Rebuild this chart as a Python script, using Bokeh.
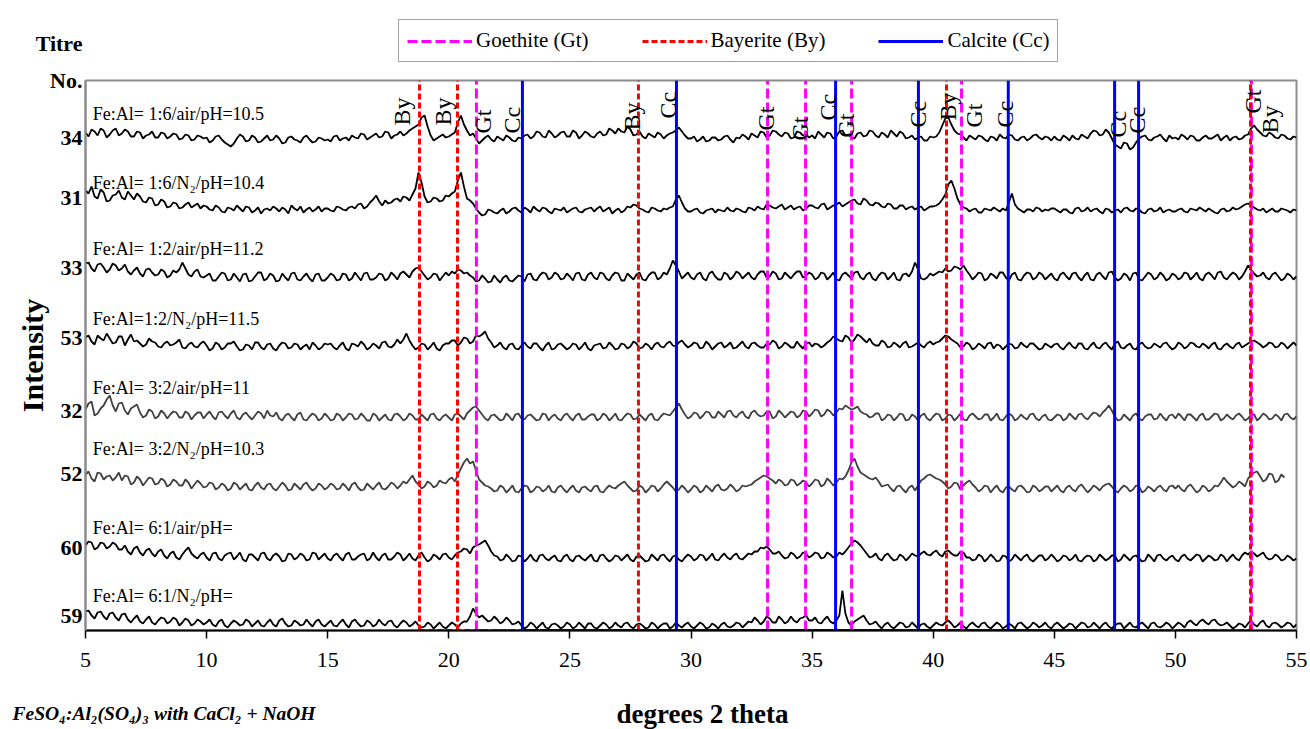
import numpy as np
from bokeh.plotting import figure
from bokeh.layouts import column
from bokeh.models import Range1d, FixedTicker, Legend, LegendItem, Label
from bokeh.core.properties import value
from bokeh.embed import file_html
from bokeh.resources import INLINE

FONT = "Liberation Serif"

# ---------------- data ----------------
two_theta_start = 5.0
two_theta_step = 0.25   # step of the main samples; *_mid are the samples in between

titre = ["34", "31", "33", "53", "32", "52", "60", "59"]
sample_names = [
    "Fe:Al= 1:6/air/pH=10.5",
    "Fe:Al= 1:6/N\u2082/pH=10.4",
    "Fe:Al= 1:2/air/pH=11.2",
    "Fe:Al=1:2/N\u2082/pH=11.5",
    "Fe:Al= 3:2/air/pH=11",
    "Fe:Al= 3:2/N\u2082/pH=10.3",
    "Fe:Al= 6:1/air/pH=",
    "Fe:Al= 6:1/N\u2082/pH=",
]
offsets = [490, 420, 353, 283, 213, 142, 73, 5]
titre_tick_y = [493, 433, 363, 293, 220, 157, 83, 15]
name_y = [517, 448, 382, 312, 243, 182, 103, 35]
trace_colors = ["black", "black", "black", "black", "#404040", "#404040", "black", "black"]

t34 = [8, 11, 5, 10, 6, 12, 7, 9, 4, 8, 5, 9, 3, 7, 4, 6, 2, 5, 1, 4,
       3, 0, 5, -2, -6, 2, 4, 0, 3, -1, 5, 1, 2, -2, 4, 0, 3, 1, -1, 2,
       1, 4, 0, 3, 5, 2, 6, 3, 7, 4, 8, 5, 9, 7, 12, 16, 25, 5, 2, 6,
       4, 8, 25, 10, 7, -3, 3, 1, 4, 0, 3, -1, 2, 6, 4, 8, 3, 7, 5, 9,
       4, 8, 5, 7, 3, 9, 6, 10, 12, 8, 11, 6, 4, 7, 3, 6, 5, 8, 13, 5,
       2, -1, 4, 0, 3, 1, 5, -2, 2, 4, 7, 3, 8, 5, 9, 4, 7, 3, 8, 6,
       5, 9, 3, 7, 4, 10, 6, 2, 8, 5, 9, 3, 6, 10, 4, 7, 3, 1, 4, 0,
       3, 8, 22, 16, 7, 3, 5, 1, 4, -1, 3, 6, 2, 5, 0, 4, 2, 6, 1, 3,
       4, 0, 3, 5, 1, 4, 7, 9, 6, 8, -4, -8, -3, -7, 2, 5, 0, 4, 2, 5,
       3, 6, 1, 4, 0, 5, 2, 6, 3, 0, 4, 2, 6, 15, 8, 4, 6, 2, 5, 1,
       3]
t34_mid = [4, 9, 12, 3, 10, 5, 11, 4, 9, 2, 6, 3, 8, 2, 7, 1, 6, 0, 5, 2,
           -2, 4, 1, -4, -3, 6, -1, 5, -2, 2, 0, 5, -3, 3, 1, -2, 5, -2, 3, 0,
           -1, 5, 2, 0, 3, 7, 1, 5, 3, 9, 2, 6, 5, 10, 14, 23, 14, 0, 4, 3,
           6, 18, 16, 5, 2, 0, 5, -1, 2, 5, 0, 3, 5, 2, 9, 4, 10, 3, 8, 4,
           10, 2, 9, 4, 7, 5, 12, 7, 9, 14, 5, 9, 2, 5, 8, 2, 7, 10, 9, 2,
           4, 1, -1, 3, 0, 4, 1, 3, 6, 1, 5, 9, 3, 10, 6, 8, 2, 9, 5, 3,
           2, 6, 8, 2, 9, 5, 3, 7, 4, 10, 5, 8, 3, 7, 9, 2, 5, 3, 0, 4,
           4, 15, 23, 10, 6, 0, 3, 5, 1, 4, 0, 3, 6, 1, 3, 0, 5, 3, 4, 0,
           1, 5, 0, 2, 6, 2, 10, 5, 11, 2, -6, -2, -9, -2, 4, 1, 3, 6, -1, 2,
           1, 4, 5, 0, 3, 2, 4, 0, 5, 3, 1, 5, 12, 11, 5, 8, 3, 6, 2, 4]

t31 = [20, 24, 12, 18, 10, 16, 13, 19, 11, 14, 8, 12, 6, 9, 4, 7, 3, 8, 5, 2,
       4, 0, 3, -2, 2, 5, -1, 3, 0, -3, 2, 4, -1, 1, 5, 0, -2, 3, 1, -1,
       2, -1, 3, 0, 4, 6, 2, 8, 15, 5, 7, 11, 9, 13, 16, 38, 14, 9, 12, 10,
       14, 19, 38, 12, 7, -2, -4, 0, -3, 2, -1, 3, -2, 1, 4, -1, 2, -3, 1, 3,
       0, 3, -2, 2, -1, 4, 1, -3, 2, 0, 3, 5, 1, -2, 2, -1, 1, 4, 15, 2,
       -1, 2, -3, 1, -2, 0, 3, -1, 1, -2, 2, 4, 1, 5, 2, 6, 3, 1, 4, 2,
       5, 2, 7, 3, 6, 4, 8, 11, 6, 10, 5, 7, 3, 6, 2, 5, 3, 1, 4, 2,
       4, 7, 16, 30, 12, 3, -1, 2, -2, 1, 3, -1, 0, 17, 2, -2, 1, 3, -1, 0,
       2, -2, 1, -3, 3, 0, -1, 2, -3, 1, 0, -2, 3, -1, 1, -3, 2, 0, -2, 1,
       -1, 2, -2, 1, 3, -1, 0, -3, 2, 0, 1, 4, 7, 3, 0, -2, 2, -1, 1, -2,
       0]
t31_mid = [17, 14, 21, 9, 15, 20, 11, 15, 17, 9, 13, 5, 11, 3, 8, 2, 6, 3, 7, 5,
           1, 5, -1, 3, 0, 2, 4, -2, 3, 1, 0, 2, 3, -3, 2, 4, 1, -1, 4, 2,
           0, 4, 1, 3, 2, 7, 4, 11, 9, 10, 8, 12, 14, 10, 22, 28, 8, 13, 9, 15,
           17, 30, 24, 10, 2, -5, 1, -2, 0, -3, 2, 0, 3, -2, 1, 3, -1, 2, 0, -2,
           2, -1, 1, 3, 2, -1, 3, 0, -2, 4, 6, 2, -1, 3, 0, 2, 3, 11, 8, -1,
           1, -2, 0, 2, 1, -1, 0, 2, -1, 3, 0, 2, 6, 3, 4, 1, 5, 3, 0, 5,
           3, 6, 1, 5, 8, 6, 10, 7, 12, 6, 8, 4, 7, 2, 5, 1, 4, 3, 0, 4,
           5, 11, 26, 22, 6, 2, 1, -2, 2, 0, 1, 2, 8, 6, 0, 1, -1, 2, 1, 2,
           0, 1, -2, 2, -1, 3, 1, -1, 2, -2, 1, 2, 0, 2, -2, 1, -1, 3, 0, -1,
           1, -1, 2, 0, 1, 2, -2, 1, -1, 3, 2, 6, 5, 1, 2, 0, -1, 2, 0, 1]

t33 = [14, 9, 13, 10, 8, 12, 9, 6, 7, 4, 8, 5, 3, 6, 2, 5, 15, 3, 6, 1,
       2, -3, 1, 4, -2, 0, 3, -4, 1, 5, -1, 2, -3, 0, 4, -2, 1, -1, 3, -3,
       0, 2, -2, 3, -1, 1, 4, -2, 0, 3, -1, 2, 4, 3, 6, 10, 2, 0, 3, 1,
       2, 4, 7, 5, 0, -3, -1, -4, -2, 0, -3, -1, 1, 3, -2, 2, 4, 0, 3, -1,
       1, 4, -2, 3, 0, 5, -1, 2, 4, -3, 1, 3, -2, 2, 5, 0, 3, 17, 6, 2,
       0, 3, -1, 4, 1, -2, 3, 1, 4, 2, 0, 3, 6, 1, 4, -1, 2, 3, 6, 2,
       3, 0, 4, 1, -2, 3, 2, 5, 0, 3, -1, 2, 4, 1, -2, 3, 1, 15, -1, 0,
       2, 6, 9, 7, 10, 12, 3, 1, 4, -1, 2, 5, 0, 3, -2, 2, 4, 0, 3, 1,
       -1, 3, 1, 4, 0, 2, -2, 3, 1, 5, 0, -1, 2, 4, -2, 1, 3, 0, 2, -1,
       2, 0, 4, 1, -1, 3, 2, 5, 0, 2, 3, 1, 12, 4, 2, 0, 3, 1, -1, 2,
       1]
t33_mid = [15, 6, 14, 5, 14, 7, 13, 3, 10, 1, 9, 2, 8, 0, 7, 8, 9, 1, 8, 0,
           4, -3, 5, -3, 4, -4, 4, -3, 5, -3, 4, -4, 4, -3, 5, -3, 4, -4, 4, -3,
           4, -3, 4, -3, 5, -3, 5, -2, 4, -3, 5, -2, 6, 0, 9, 6, -2, 4, -3, 5,
           6, 8, 4, 2, -4, 2, -5, 2, -5, 2, -4, 2, -4, 4, -3, 5, -2, 5, -2, 4,
           -3, 5, -3, 5, -2, 4, -3, 5, -3, 4, -2, 5, -3, 5, -2, 5, 9, 12, -1, 5,
           -2, 5, -3, 6, -2, 5, -2, 6, -1, 5, -2, 6, 0, 6, -2, 5, -1, 6, 0, 5,
           -2, 5, -2, 5, -3, 5, -1, 6, -2, 5, -3, 5, -2, 5, -3, 4, 6, 8, -2, 4,
           4, 5, 6, 11, 8, 7, -2, 5, -3, 4, -1, 5, -3, 5, -3, 5, -2, 5, -2, 4,
           -3, 5, -2, 5, -3, 5, -3, 5, -2, 6, -3, 4, -3, 5, -3, 5, -2, 5, -3, 4,
           -2, 5, -2, 5, -3, 5, -2, 6, -2, 5, -2, 6, 8, 1, 5, -2, 5, -3, 4, -2]

t53 = [10, 6, 12, 7, 9, 5, 11, 8, 6, 4, 3, 6, 1, 4, 2, 5, 0, 3, 1, 4,
       2, -1, 3, 0, 4, 1, -2, 2, 5, 0, 3, -1, 2, 4, 0, 3, 1, -2, 2, 0,
       3, 0, 2, -1, 4, 1, 3, 0, 2, 5, 1, 3, 4, 14, 2, 0, 3, 1, -1, 2,
       4, 7, 5, 9, 6, 11, 16, 5, 2, 0, 3, -1, 2, 1, 4, 0, 2, -2, 3, 1,
       0, 3, 1, -1, 2, 4, 0, 2, -1, 3, 1, 4, 0, 2, 3, 1, 4, 2, 5, 3,
       2, 4, 0, 3, 1, 5, 2, -1, 3, 1, 4, 2, 0, 3, 5, 1, 3, 0, 2, 4,
       1, 3, 2, 7, 9, 6, 10, 8, 11, 5, 4, 2, 5, 1, 3, 4, 0, 3, 2, 4,
       3, 6, 12, 8, 4, 1, 3, 0, 2, 4, -1, 2, 1, 3, 0, 2, 4, 1, -1, 2,
       3, 0, 2, 1, 4, -1, 2, 0, 3, 1, 4, 0, 2, -1, 3, 1, 0, 2, 4, 1,
       0, 3, 1, 4, 0, 2, 3, -1, 2, 1, 3, 0, 4, 7, 3, 2, 4, 1, 3, 2,
       2]
t53_mid = [12, 3, 9, 14, 4, 11, 2, 13, 7, 1, 9, 5, 0, 6, 3, 8, -1, 5, 0, 6,
           -3, 5, -2, 4, 6, -3, 3, -2, 5, -2, 4, -3, 5, -1, 4, -2, 3, 5, -2, 4,
           4, -2, 5, -3, 3, 6, -2, 4, -1, 6, 0, 8, 8, 7, -2, 4, -2, 5, -3, 4,
           7, 2, 10, 4, 12, 13, 9, 0, 5, -2, 4, -2, 5, -1, 4, -3, 5, -1, 4, -2,
           4, -2, 5, -3, 3, -1, 5, -2, 4, -1, 6, -1, 4, -2, 5, 0, 6, 1, 7, 0,
           5, -1, 6, -2, 4, 0, 5, 0, 6, -1, 5, 0, 4, 7, -1, 5, 0, 6, -1, 5,
           4, 0, 5, 11, 7, 12, 5, 13, 8, 9, 2, 7, 0, 5, 0, 6, 1, 5, 0, 6,
           5, 9, 11, 6, 0, 5, -2, 4, -1, 5, 3, -2, 4, -1, 5, 0, 4, -2, 4, 0,
           4, -2, 5, -1, 4, -2, 5, -1, 5, -2, 6, -1, 4, -2, 5, -1, 4, 0, 5, -2,
           5, -1, 5, 1, 4, -1, 5, -2, 4, -1, 5, 2, 6, 5, 0, 5, 0, 5, -1, 5]

t32 = [8, 16, 4, 12, 22, 6, 15, 3, 11, 5, 2, 6, 1, 4, 3, 5, 0, 4, 2, 5,
       3, 1, 5, 2, 4, 0, 3, 1, 2, 4, 7, 1, -1, 2, 0, 3, -2, 1, 2, -1,
       1, -2, 2, 0, 3, -1, 1, -3, 2, 0, -2, 3, 1, -1, 2, -2, 0, 3, -1, 1,
       0, 3, 1, 4, 10, 7, -1, 2, 0, -2, 1, 3, -1, 2, 0, -2, 3, 1, -1, 2,
       0, 2, -2, 1, 3, -1, 2, 0, -2, 1, 3, -1, 0, 2, -2, 1, 3, 6, 14, 3,
       1, 4, 2, 5, 0, 3, 6, 2, 4, 1, 5, 3, 2, 6, 1, 4, 3, 5, 2, 6,
       4, 7, 3, 6, 5, 8, 10, 9, 6, 3, 1, 4, -1, 2, 0, 3, -2, 1, 2, -1,
       1, 3, -1, 2, 0, -2, 2, 1, -1, 3, 0, -2, 1, 2, -1, 0, 3, -1, 1, -2,
       0, 2, -1, 1, 3, 0, 2, 4, 5, 12, 1, -2, 0, 2, -1, 1, 3, -1, 0, 2,
       -1, 1, 3, 0, 2, -2, 1, 3, -1, 0, 2, 1, -1, 3, 0, 2, -1, 1, 3, 0,
       1]
t32_mid = [14, 2, 9, 18, 12, 14, 7, 9, 13, 0, 8, -1, 7, -1, 6, 0, 6, -2, 5, -1,
           6, -2, 6, -1, 7, -2, 5, -2, 6, -1, 2, 5, -3, 4, -3, 5, -3, 4, -3, 4,
           -3, 4, -3, 4, -2, 4, -3, 4, -3, 3, -3, 4, -3, 4, -2, 3, -3, 4, -3, 3,
           -3, 4, -2, 7, 11, 3, -3, 3, -3, 4, -3, 4, -2, 3, -3, 4, -3, 3, -3, 4,
           -3, 4, -2, 3, -3, 4, -3, 4, -3, 4, -2, 3, -3, 4, -3, 4, 2, 10, 8, -1,
           5, -1, 6, 0, 6, 0, 7, 0, 6, -1, 7, 1, 6, -1, 7, 0, 6, 0, 7, 1,
           8, 1, 8, 2, 9, 12, 8, 11, 4, 0, 4, -3, 3, -3, 4, -3, 3, -3, 4, -3,
           4, -3, 3, -3, 4, -3, 4, -2, 3, -3, 4, -3, 4, -3, 3, -2, 4, -3, 3, -3,
           3, -3, 4, -2, 4, -2, 5, 1, 8, 7, -3, 3, -3, 4, -3, 3, -2, 4, -3, 3,
           4, -3, 3, -3, 4, -2, 4, -3, 3, -2, 4, -3, 3, -3, 4, -2, 3, -3, 4, -2]

t52 = [14, 10, 16, 9, 13, 11, 8, 12, 6, 9, 7, 10, 5, 8, 4, 7, 3, 6, 4, 5,
       2, 5, 1, 3, 0, 4, 2, -1, 3, 1, 4, 0, 2, 3, -1, 2, 4, 1, 0, 3,
       1, 3, 0, 2, 4, 1, -1, 2, 3, 0, 2, 4, 3, 5, 13, 4, 2, 5, 3, 6,
       9, 7, 20, 30, 27, 9, 3, 0, -2, 1, -1, -3, 0, 2, -2, 1, -1, -3, 1, -1,
       0, -2, 1, -1, 2, -3, 0, 1, 3, 7, 0, -2, 1, -1, 2, 0, 7, 1, -1, 0,
       -1, 1, -2, 0, 2, -1, 0, 1, -1, 2, 4, 9, 13, 10, 5, 7, 4, 8, 5, 6,
       5, 8, 4, 7, 6, 9, 18, 30, 16, 12, 9, 7, 3, 0, 2, -1, 1, -2, 8, 13,
       12, 9, 4, 2, 5, 3, 8, 1, -1, 2, 0, -2, 1, -1, 2, 0, -3, 1, -1, 2,
       0, -2, 1, -1, 2, 0, -1, 1, 2, 5, -2, 0, 1, -1, 2, -2, 0, 1, -1, 2,
       0, -1, 2, 0, -2, 1, -1, 2, 11, 4, 3, 5, 10, 16, 12, 9, 14, 8, 11]
t52_mid = [17, 7, 15, 12, 8, 16, 13, 4, 12, 3, 11, 4, 10, 2, 9, 3, 9, 0, 8, 1,
           6, -1, 5, -2, 6, -1, 5, -2, 6, -1, 5, -2, 6, -2, 5, -1, 6, -2, 5, -1,
           5, -1, 5, -2, 6, -2, 5, -1, 6, -1, 6, 0, 7, 9, 7, 0, 7, 1, 8, 5,
           11, 14, 26, 25, 18, 6, 2, -3, 3, -4, 3, -4, 3, -4, 2, -3, 3, -4, 3, -4,
           3, -4, 2, -3, 3, -4, 3, 0, 5, 3, -3, 3, -4, 3, -3, 4, 4, -3, 3, -4,
           3, -4, 3, -3, 4, -2, 4, -3, 3, 3, 7, 11, 12, 8, 9, 3, 9, 3, 8, 2,
           9, 2, 10, 3, 10, 12, 26, 22, 14, 10, 11, 2, 4, -3, 3, -4, 3, 3, 10, 14,
           10, 7, 0, 6, -1, 6, 4, -3, 3, -4, 3, -4, 2, -3, 3, -4, 3, -3, 2, -3,
           3, -4, 3, -3, 4, -4, 3, -2, 4, 2, -4, 3, -3, 3, -4, 2, -3, 3, -3, 3,
           3, -3, 4, -4, 3, -3, 3, 6, 7, 1, 7, 2, 13, 17, 7, 15, 6, 14]

t60 = [12, 15, 10, 14, 11, 13, 8, 6, 9, 5, 7, 4, 6, 2, 4, 0, 3, 10, 1, 3,
       0, 4, -1, 2, 5, 1, -2, 3, 0, 4, -1, 2, 1, -3, 3, 0, 2, -2, 4, 1,
       -1, 2, 0, 3, -2, 1, 4, -1, 0, 2, -2, 1, 3, 0, -1, 2, 0, -2, 1, 3,
       0, 2, 6, 8, 10, 13, 17, 6, 1, -2, 0, -3, 1, -1, -2, 2, -1, 0, -3, 1,
       -2, 1, -1, 0, -3, 2, -1, -2, 1, 0, -2, 1, -1, -3, 0, 2, -1, 1, -2, 0,
       1, -1, 2, 0, -2, 1, 0, 2, -1, 1, 3, 6, 9, 8, 4, 2, 0, 3, 1, 4,
       2, 4, 0, 3, 1, 3, 10, 17, 12, 4, 1, -1, 2, 0, -2, 1, 0, 2, 4, 3,
       5, 3, 6, 4, 2, 5, 0, -2, 1, -1, 0, -3, 1, -2, 0, 1, -2, -1, 2, -1,
       0, -2, 1, -1, -3, 0, 1, -2, 0, -1, 2, -2, 0, 1, -1, -3, 0, 2, -1, 0,
       -2, 1, -1, 0, 2, -1, 0, -2, 1, 0, -1, 2, 3, 4, 3, 0, -1, 1, -2, 0,
       -1]
t60_mid = [16, 8, 15, 9, 15, 8, 12, 3, 11, 2, 9, 1, 8, -1, 6, -2, 7, 4, -1, 5,
           -3, 5, -3, 4, -2, 5, -4, 3, -3, 5, -3, 4, -4, 4, -2, 4, -3, 5, -2, 4,
           -3, 4, -3, 5, -2, 3, -3, 5, -3, 4, -2, 5, -3, 4, -3, 5, -4, 3, -2, 4,
           -2, 5, 9, 4, 12, 15, 12, 2, -3, 3, -4, 2, -4, 3, -4, 3, -3, 2, -4, 3,
           -4, 2, -3, 3, -4, 3, -4, 2, -3, 3, -4, 2, -4, 3, -3, 3, -4, 2, -4, 3,
           -3, 3, -3, 4, -3, 4, -2, 4, -2, 4, 6, 10, 11, 4, 6, -1, 5, -1, 5, 0,
           5, -1, 5, 0, 5, 6, 14, 15, 8, 0, 4, -3, 4, -3, 3, -3, 4, 1, 6, 2,
           7, 1, 7, 2, 6, 0, -3, 3, -4, 3, -4, 2, -4, 3, -3, 3, -4, 2, -3, 3,
           -4, 2, -3, 3, -4, 2, -4, 3, -3, 2, -4, 3, -3, 2, -4, 3, -4, 3, -3, 2,
           -4, 3, -3, 3, -4, 2, -3, 3, -4, 3, -3, 5, 6, 1, 5, -2, 3, -3, 2, -3]

t59 = [14, 10, 13, 9, 12, 8, 11, 6, 7, 4, 6, 3, 5, 7, 4, 6, 3, 5, 2, 4,
       3, 1, 4, 0, 2, 3, 1, 4, 2, 0, 3, 1, 5, 2, 0, 3, 1, 2, 4, 1,
       2, 0, 3, 1, 4, 2, 0, 3, 1, 2, 4, 0, 2, 3, 1, 0, -1, 1, 0, -1,
       0, 1, 2, 4, 17, 8, 7, 5, 6, 4, 5, 2, 0, -1, 1, 0, -2, 1, 0, -1,
       1, -1, 0, 2, -2, 0, 1, -1, 0, 2, -1, 1, 0, -2, 1, 0, 2, -1, 0, 1,
       -1, 0, 1, -2, 0, 1, -1, 0, 2, 1, 3, 5, 4, 7, 3, 6, 4, 5, 7, 10,
       5, 3, 6, 4, 5, 35, 3, 4, 8, 5, 2, 0, 1, -1, 0, 2, -1, 0, 1, -1,
       0, 1, 3, 2, 0, -1, 1, 0, 2, -1, 0, 1, -1, 0, 2, 0, -1, 1, 0, -1,
       1, 0, -1, 1, 0, 2, -1, 0, 1, -1, 0, 2, 0, -1, 1, 0, 2, -1, 0, 1,
       0, 1, 3, 2, 4, 3, 5, 2, 1, 0, -1, 1, 2, 1, 3, 0, 2, 1, 0, 2,
       1]
t59_mid = [15, 7, 14, 6, 13, 5, 12, 3, 10, 2, 9, 1, 8, 2, 8, 0, 7, 0, 6, 1,
           6, -1, 6, -2, 5, 0, 6, -1, 5, -1, 6, -1, 7, -1, 5, 0, 6, -1, 6, -1,
           5, -1, 6, -2, 6, -1, 5, -1, 6, 0, 5, -2, 5, -1, 4, -2, 3, -3, 3, -3,
           3, -2, 4, 9, 12, 10, 4, 9, 2, 8, 1, 4, -3, 3, -3, 3, -3, 2, -3, 3,
           -3, 3, -3, 2, -3, 3, -3, 3, -2, 3, -3, 2, -3, 3, -3, 2, -3, 3, -2, 3,
           -3, 3, -3, 2, -3, 3, -2, 3, -2, 4, 8, 1, 9, 3, 9, 2, 9, 3, 8, 5,
           8, 2, 9, 2, 10, 12, 0, 6, 10, 1, 4, -3, 3, -3, 3, -2, 3, -3, 2, -3,
           3, 0, 5, -2, 3, -3, 3, -2, 3, -3, 3, -3, 2, -3, 3, -3, 3, -2, 3, -3,
           3, -3, 2, -3, 3, -2, 3, -3, 3, -3, 2, -3, 3, -2, 3, -3, 3, -2, 3, -3,
           3, -2, 5, 0, 6, 1, 6, 0, 3, -3, 2, -2, 5, -1, 5, -2, 3, -2, 3, -2]

traces = [(t34, t34_mid), (t31, t31_mid), (t33, t33_mid), (t53, t53_mid),
          (t32, t32_mid), (t52, t52_mid), (t60, t60_mid), (t59, t59_mid)]

# reference peak positions (degrees 2 theta)
goethite = [21.14, 33.16, 34.73, 36.63, 41.17, 53.14]
bayerite = [18.79, 20.36, 27.83, 40.55, 53.10]
calcite = [23.04, 29.40, 35.97, 39.39, 43.10, 47.49, 48.48]

# peak annotations on the top pattern
peak_labels = ["By", "By", "Gt", "Cc", "By", "Cc", "Gt", "Gt", "Cc", "Gt",
               "Cc", "By", "Gt", "Cc", "Cc", "Cc", "Gt", "By"]
peak_label_x = [18.05, 19.74, 21.43, 22.63, 27.58, 29.03, 33.08, 34.52, 35.64, 36.38,
                39.39, 40.63, 41.70, 42.98, 47.61, 48.43, 53.22, 53.92]
peak_label_y = [505, 505, 497, 497, 500, 512, 500, 490, 510, 493,
                503, 510, 503, 503, 493, 497, 517, 497]

Y_TOP = 550
W = 1310
TOP_H, MAIN_H, BOT_H = 64, 622, 43

GT_STYLE = dict(line_color="#ff00ff", line_width=3, line_dash="10 4")
BY_STYLE = dict(line_color="#ff0000", line_width=3, line_dash="6 3")
CC_STYLE = dict(line_color="#0000ff", line_width=3)


def interleave(main, mid):
    n = min(len(mid), len(main) - 1)
    out = []
    for i in range(n):
        out += [main[i], mid[i]]
    out += list(main[n:])
    return np.array(out, dtype=float)


def strip(h):
    f = figure(width=W, height=h, output_backend="svg", toolbar_location=None,
               x_range=Range1d(0, W), y_range=Range1d(0, h), title=None,
               x_axis_location=None, y_axis_location=None, frame_align=False,
               min_border=0, min_border_left=0, min_border_right=0,
               min_border_top=0, min_border_bottom=0)
    f.xgrid.visible = False
    f.ygrid.visible = False
    f.outline_line_color = None
    f.background_fill_color = "white"
    f.border_fill_color = "white"
    return f


# ---------------- main figure ----------------
p = figure(width=W, height=MAIN_H, output_backend="svg", toolbar_location=None,
           x_range=Range1d(5, 55), y_range=Range1d(0, Y_TOP), title=None, frame_align=False,
           min_border_left=85, min_border_right=14, min_border_top=16, min_border_bottom=56)
p.xgrid.visible = False
p.ygrid.visible = False
p.outline_line_color = "#8c8c8c"
p.outline_line_width = 2
p.background_fill_color = "white"
p.border_fill_color = "white"

xa = p.xaxis[0]
xa.ticker = FixedTicker(ticks=list(range(5, 56, 5)))
xa.axis_line_color = "black"
xa.axis_line_width = 2
xa.major_tick_line_color = "black"
xa.major_tick_line_width = 1.5
xa.major_tick_out = 8
xa.major_tick_in = 0
xa.minor_tick_line_color = None
xa.major_label_text_font = FONT
xa.major_label_text_font_size = "22px"
xa.major_label_text_color = "black"
xa.major_label_standoff = 14

ya = p.yaxis[0]
ticks = titre_tick_y + [Y_TOP - 0.01]
ya.ticker = FixedTicker(ticks=ticks)
ya.major_label_overrides = {t: lab for t, lab in zip(ticks, titre + ["No."])}
ya.axis_line_color = "#8c8c8c"
ya.axis_line_width = 2
ya.major_tick_line_color = None
ya.minor_tick_line_color = None
ya.major_label_text_font = FONT
ya.major_label_text_font_size = "22px"
ya.major_label_text_font_style = "bold"
ya.major_label_text_color = "black"
ya.major_label_standoff = -3
ya.axis_label = "Intensity"
ya.axis_label_text_font = FONT
ya.axis_label_text_font_size = "30px"
ya.axis_label_text_font_style = "bold"
ya.axis_label_text_color = "black"
ya.axis_label_standoff = -2

for (main, mid), off, col in zip(traces, offsets, trace_colors):
    v = interleave(main, mid)
    x = two_theta_start + (two_theta_step / 2) * np.arange(len(v))
    p.line(x, v + off, line_color=col, line_width=1.8)


def add_sticks(fig, pos, style):
    fig.line([min(pos), max(pos)], [0, 0], **style)
    return fig.multi_line(xs=[[x, x] for x in pos], ys=[[0, Y_TOP] for _ in pos], **style)


add_sticks(p, goethite, GT_STYLE)
add_sticks(p, bayerite, BY_STYLE)
add_sticks(p, calcite, CC_STYLE)

p.text(x=[5.3] * len(sample_names), y=name_y, text=sample_names,
       text_font=value(FONT), text_font_size="18px", text_color="black",
       text_align="left", text_baseline="middle")

p.text(x=peak_label_x, y=peak_label_y, text=peak_labels, angle=np.pi / 2,
       text_font=value(FONT), text_font_size="24px", text_color="black",
       text_align="left", text_baseline="middle")

# ---------------- top strip: legend + header ----------------
top = strip(TOP_H)
r_gt = top.line([-100, -90], [-100, -100], **GT_STYLE)
r_by = top.line([-100, -90], [-100, -100], **BY_STYLE)
r_cc = top.line([-100, -90], [-100, -100], **CC_STYLE)
legend = Legend(items=[LegendItem(label="Goethite (Gt)", renderers=[r_gt]),
                       LegendItem(label="Bayerite (By)", renderers=[r_by]),
                       LegendItem(label="Calcite (Cc)", renderers=[r_cc])],
                orientation="horizontal", location=(398, 2),
                glyph_width=65, glyph_height=20, label_standoff=4, spacing=53,
                padding=8, margin=0,
                label_text_font=FONT, label_text_font_size="21px",
                label_text_color="black",
                border_line_color="#444444", border_line_width=1.5,
                background_fill_color="white", background_fill_alpha=1.0)
top.add_layout(legend, "center")
top.add_layout(Label(x=82, y=TOP_H - 43, text="Titre", text_font=FONT, text_font_size="22px",
                     text_font_style="bold", text_align="right", text_baseline="middle",
                     text_color="black"))

# ---------------- bottom strip: titles ----------------
bot = strip(BOT_H)
bot.add_layout(Label(x=702, y=BOT_H - 27, text="degrees 2 theta", text_font=FONT,
                     text_font_size="27px", text_font_style="bold", text_align="center",
                     text_baseline="middle", text_color="black"))
bot.add_layout(Label(x=12, y=BOT_H - 27,
                     text="FeSO\u2084:Al\u2082(SO\u2084)\u2083 with CaCl\u2082 + NaOH",
                     text_font=FONT, text_font_size="19.5px", text_font_style="bold italic",
                     text_align="left", text_baseline="middle", text_color="black"))

layout = column(top, p, bot, spacing=0)
open("out.html", "w").write(file_html(layout, INLINE))
